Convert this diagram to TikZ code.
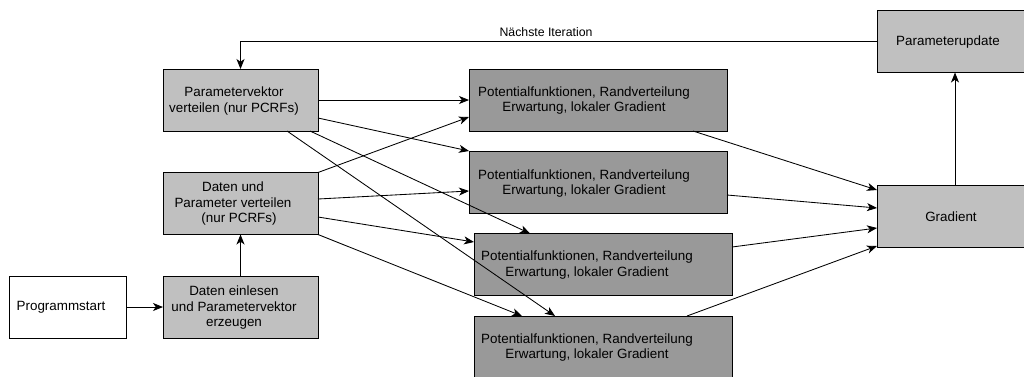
\documentclass[tikz,border=0pt]{standalone}
\usepackage{fontspec}
\setmainfont{Liberation Sans}
\usetikzlibrary{arrows.meta}
\definecolor{boxlight}{HTML}{C0C0C0}
\definecolor{boxdark}{HTML}{999999}
\tikzset{
  box/.style={draw=black, line width=0.9pt, inner sep=0pt, outer sep=0pt,
              minimum height=62pt},
  lightbox/.style={box, fill=boxlight},
  darkbox/.style={box, fill=boxdark, minimum width=258pt},
  txt/.style={align=center, inner sep=0pt, font=\fontsize{13.4}{15.5}\selectfont},
  conn/.style={line width=0.85pt, -{Stealth[length=10pt, width=8pt, inset=2.8pt]}},
}
\begin{document}
\begin{tikzpicture}[x=1pt, y=-1pt]
\useasboundingbox (0,0) rectangle (1024,376);
\clip (0,0) rectangle (1024,376);

% boxes
\node[box, fill=white, minimum width=117pt] (start) at (67.5,307) {};
\node[lightbox, minimum width=155pt] (read) at (240.5,307) {};
\node[lightbox, minimum width=155pt] (dp) at (240.5,203.5) {};
\node[lightbox, minimum width=155pt] (pv) at (240.5,100) {};
\node[darkbox] (p1) at (598,100) {};
\node[darkbox] (p2) at (598,182) {};
\node[darkbox] (p3) at (603,264.5) {};
\node[darkbox] (p4) at (603,347) {};
\node[lightbox, minimum width=156pt] (grad) at (955,216.5) {};
\node[lightbox, minimum width=156pt] (upd) at (955,41.5) {};

% box texts
\node[txt] (start-t) at (61,307) {Programmstart};
\node[txt] (read-t) at (234,308) {Daten einlesen\\und Parametervektor\\erzeugen};
\node[txt] (dp-t) at (233,204) {Daten und\\Parameter verteilen\\\hspace*{12pt}(nur PCRFs)};
\node[txt] (pv-t) at (234,101) {Parametervektor\\verteilen (nur PCRFs)};
\node[txt] (p1-t) at (584,100.5) {Potentialfunktionen, Randverteilung\\Erwartung, lokaler Gradient};
\node[txt] (p2-t) at (584,183.5) {Potentialfunktionen, Randverteilung\\Erwartung, lokaler Gradient};
\node[txt] (p3-t) at (587,265) {Potentialfunktionen, Randverteilung\\Erwartung, lokaler Gradient};
\node[txt] (p4-t) at (587,347.5) {Potentialfunktionen, Randverteilung\\Erwartung, lokaler Gradient};
\node[txt] (grad-t) at (951,217) {Gradient};
\node[txt] (upd-t) at (948,42) {Parameterupdate};

% start-up chain
\draw[conn] (start.east) -- (read.west);
\draw[conn] (read.north) -- (dp.south);

% parameter vector to the workers
\draw[conn] (pv.east) -- (p1.west);
\draw[conn] ([yshift=-18pt]pv.east) -- (p2.north west);
\draw[conn] ([xshift=69.5pt]pv.south) -- ([xshift=-73pt]p3.north);
\draw[conn] ([xshift=46.5pt]pv.south) -- ([xshift=-48pt]p4.north);

% data and parameters to the workers
\draw[conn] (dp.north east) -- ([yshift=-17pt]p1.west);
\draw[conn] ([yshift=4.5pt]dp.east) -- ([yshift=-9pt]p2.west);
\draw[conn] ([yshift=-13.5pt]dp.east) -- ([yshift=22.5pt]p3.west);
\draw[conn] (dp.south east) -- ([xshift=-81pt]p4.north);

% local gradients collected
\draw[conn] ([xshift=95pt]p1.south) -- ([yshift=26.5pt]grad.west);
\draw[conn] ([yshift=-13pt]p2.east) -- ([yshift=8.5pt]grad.west);
\draw[conn] ([yshift=17.5pt]p3.east) -- ([yshift=-11.5pt]grad.west);
\draw[conn] ([xshift=84pt]p4.north) -- ([yshift=-29.5pt]grad.west);

% update and next iteration
\draw[conn] (grad.north) -- (upd.south);
\draw[conn] (upd.west) -| node[pos=0.26, above, inner sep=4pt,
  font=\fontsize{12.3}{14}\selectfont] (iter) {Nächste Iteration} (pv.north);
\end{tikzpicture}
\end{document}
